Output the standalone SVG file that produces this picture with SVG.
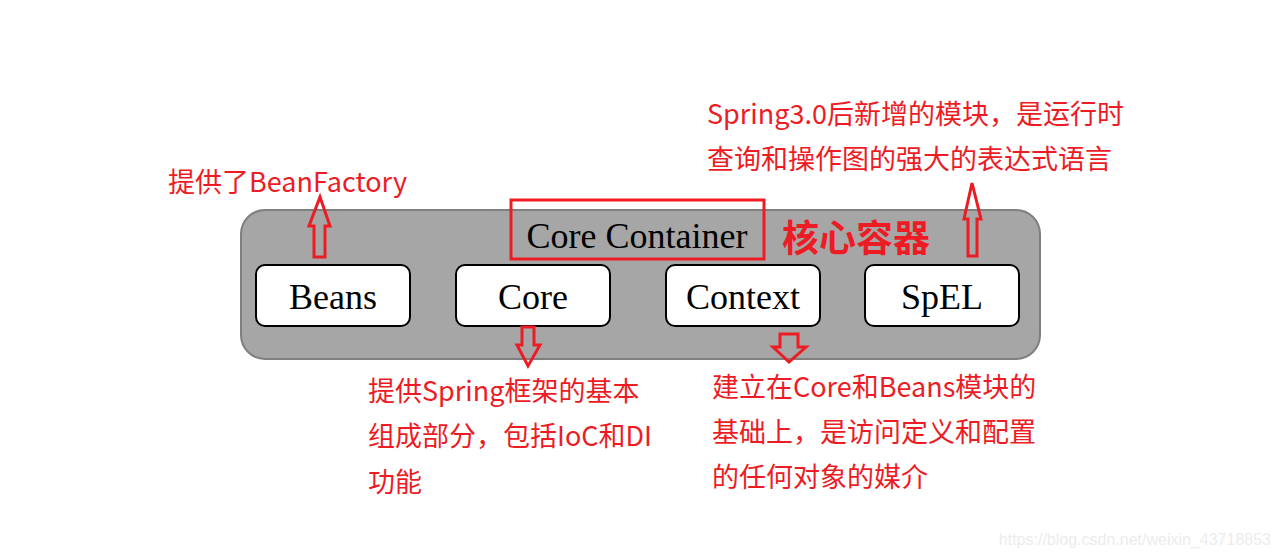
<svg xmlns="http://www.w3.org/2000/svg" width="1281" height="556" viewBox="0 0 1281 556">
<style>
.box{fill:#fff;stroke:#000;stroke-width:2}
.lbl{font-family:"Liberation Serif","Times New Roman",serif;font-size:36px;fill:#000;text-anchor:middle}
.note{font-family:"Noto Sans CJK SC","Microsoft YaHei",sans-serif;font-size:27px;fill:#ed1c24}
.arr{fill:none;stroke:#ed1c24;stroke-width:3;stroke-linejoin:miter}
</style>
<rect width="1281" height="556" fill="#fff"/>
<g id="container">
<rect x="241" y="210" width="799" height="149" rx="24" fill="#a6a6a6" stroke="#7f7f7f" stroke-width="2"/>
<rect x="511" y="200" width="253" height="59" fill="none" stroke="#ed1c24" stroke-width="3"/>
<text x="637" y="248" class="lbl">Core Container</text>
<text x="782" y="252" font-family="'Noto Sans CJK SC',sans-serif" font-size="37" font-weight="bold" fill="#ed1c24">核心容器</text>
</g>
<g id="beans"><rect x="256" y="265" width="154" height="61" rx="9" class="box"/><text x="333" y="309" class="lbl">Beans</text></g>
<g id="core"><rect x="456" y="265" width="154" height="61" rx="9" class="box"/><text x="533" y="309" class="lbl">Core</text></g>
<g id="context"><rect x="666" y="265" width="154" height="61" rx="9" class="box"/><text x="743" y="309" class="lbl">Context</text></g>
<g id="spel"><rect x="865" y="265" width="154" height="61" rx="9" class="box"/><text x="942" y="309" class="lbl">SpEL</text></g>
<g id="connectors">
<polygon class="arr" points="320,197 330,226 325,226 325,257 314,257 314,226 309,226"/>
<polygon class="arr" points="972,183 981,219 977,219 977,256 968,256 968,219 964,219"/>
<polygon class="arr" points="522,327 534,327 534,345 540,345 528,366 517,345 522,345"/>
<polygon class="arr" points="780,334 798,334 798,347 806,347 789,362 773,347 780,347"/>
</g>
<g id="notes">
<text x="168" y="192" class="note">提供了BeanFactory</text>
<text class="note"><tspan x="707" y="124">Spring3.0后新增的模块，是运行时</tspan><tspan x="707" y="169">查询和操作图的强大的表达式语言</tspan></text>
<text class="note"><tspan x="368" y="401">提供Spring框架的基本</tspan><tspan x="368" y="446">组成部分，包括IoC和DI</tspan><tspan x="368" y="492">功能</tspan></text>
<text class="note"><tspan x="712" y="397">建立在Core和Beans模块的</tspan><tspan x="712" y="442">基础上，是访问定义和配置</tspan><tspan x="712" y="487">的任何对象的媒介</tspan></text>
<text x="1271" y="545" text-anchor="end" font-family="'Liberation Sans',Arial,sans-serif" font-size="16" fill="#ececec">https://blog.csdn.net/weixin_43718853</text>
</g>
</svg>
